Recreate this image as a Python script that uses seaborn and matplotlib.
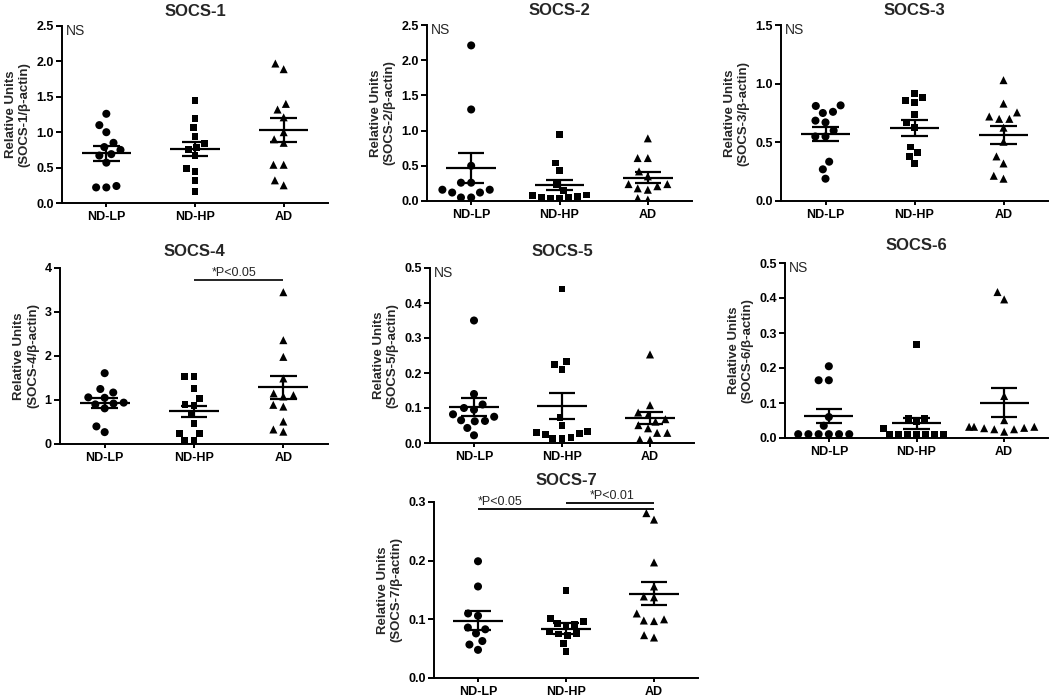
import numpy as np
import pandas as pd
import matplotlib
matplotlib.use("Agg")
import matplotlib.pyplot as plt
import seaborn as sns

groups = ["ND-LP", "ND-HP", "AD"]

# ---- data ----
socs1_ndlp = [1.26, 1.10, 1.00, 0.85, 0.79, 0.75, 0.69, 0.67, 0.57, 0.24, 0.22, 0.22]
socs1_ndhp = [1.45, 1.20, 1.06, 0.94, 0.84, 0.79, 0.75, 0.67, 0.49, 0.45, 0.32, 0.16]
socs1_ad = [1.97, 1.89, 1.40, 1.32, 1.21, 1.00, 0.90, 0.85, 0.54, 0.54, 0.32, 0.25]
socs1_mean = [0.70, 0.76, 1.03]
socs1_sem = [0.11, 0.095, 0.165]

socs2_ndlp = [2.21, 1.30, 0.50, 0.26, 0.26, 0.16, 0.16, 0.12, 0.12, 0.05, 0.05]
socs2_ndhp = [0.95, 0.54, 0.43, 0.23, 0.15, 0.085, 0.08, 0.07, 0.05, 0.05, 0.04, 0.04]
socs2_ad = [0.89, 0.61, 0.61, 0.42, 0.35, 0.24, 0.24, 0.21, 0.18, 0.16, 0.04, 0.02]
socs2_mean = [0.47, 0.23, 0.33]
socs2_sem = [0.21, 0.072, 0.08]

socs3_ndlp = [0.815, 0.81, 0.76, 0.75, 0.685, 0.67, 0.60, 0.55, 0.55, 0.335, 0.27, 0.19]
socs3_ndhp = [0.92, 0.88, 0.855, 0.84, 0.74, 0.67, 0.63, 0.46, 0.41, 0.38, 0.32]
socs3_ad = [1.03, 0.83, 0.755, 0.72, 0.70, 0.70, 0.625, 0.505, 0.38, 0.32, 0.215, 0.19]
socs3_mean = [0.57, 0.62, 0.56]
socs3_sem = [0.06, 0.07, 0.075]

socs4_ndlp = [1.61, 1.25, 1.17, 1.06, 1.05, 0.94, 0.92, 0.90, 0.81, 0.40, 0.27]
socs4_ndhp = [1.53, 1.53, 1.27, 1.04, 0.90, 0.88, 0.66, 0.47, 0.24, 0.24, 0.09, 0.09]
socs4_ad = [3.45, 2.36, 1.98, 1.49, 1.15, 1.11, 1.08, 0.89, 0.85, 0.51, 0.33, 0.28]
socs4_mean = [0.94, 0.74, 1.29]
socs4_sem = [0.115, 0.135, 0.265]

socs5_ndlp = [0.35, 0.14, 0.11, 0.10, 0.095, 0.082, 0.075, 0.065, 0.063, 0.062, 0.043, 0.022]
socs5_ndhp = [0.44, 0.232, 0.225, 0.21, 0.073, 0.049, 0.032, 0.03, 0.026, 0.025, 0.015, 0.013, 0.012]
socs5_ad = [0.253, 0.108, 0.087, 0.08, 0.068, 0.061, 0.051, 0.042, 0.029, 0.029, 0.01, 0.009]
socs5_mean = [0.102, 0.106, 0.071]
socs5_sem = [0.026, 0.036, 0.018]

socs6_ndlp = [0.205, 0.165, 0.165, 0.06, 0.035, 0.011, 0.011, 0.011, 0.011, 0.011, 0.011]
socs6_ndhp = [0.268, 0.056, 0.056, 0.047, 0.028, 0.01, 0.01, 0.01, 0.01, 0.01, 0.01, 0.01]
socs6_ad = [0.417, 0.396, 0.12, 0.051, 0.032, 0.032, 0.032, 0.029, 0.028, 0.025, 0.025, 0.018]
socs6_mean = [0.063, 0.042, 0.101]
socs6_sem = [0.021, 0.015, 0.042]

socs7_ndlp = [0.199, 0.156, 0.11, 0.106, 0.086, 0.083, 0.076, 0.063, 0.057, 0.048]
socs7_ndhp = [0.149, 0.102, 0.096, 0.093, 0.0915, 0.089, 0.079, 0.076, 0.075, 0.072, 0.059, 0.045]
socs7_ad = [0.281, 0.27, 0.197, 0.156, 0.139, 0.1375, 0.11, 0.10, 0.098, 0.097, 0.073, 0.069]
socs7_mean = [0.098, 0.084, 0.144]
socs7_sem = [0.016, 0.009, 0.02]

titles = ["SOCS-1", "SOCS-2", "SOCS-3", "SOCS-4", "SOCS-5", "SOCS-6", "SOCS-7"]
y_ticks = [
    [0.0, 0.5, 1.0, 1.5, 2.0, 2.5],
    [0.0, 0.5, 1.0, 1.5, 2.0, 2.5],
    [0.0, 0.5, 1.0, 1.5],
    [0, 1, 2, 3, 4],
    [0.0, 0.1, 0.2, 0.3, 0.4, 0.5],
    [0.0, 0.1, 0.2, 0.3, 0.4, 0.5],
    [0.0, 0.1, 0.2, 0.3],
]
y_fmt = ["{:.1f}", "{:.1f}", "{:.1f}", "{:.0f}", "{:.1f}", "{:.1f}", "{:.1f}"]
ns_flags = [True, True, True, False, True, True, False]

panels = [
    (socs1_ndlp, socs1_ndhp, socs1_ad, socs1_mean, socs1_sem),
    (socs2_ndlp, socs2_ndhp, socs2_ad, socs2_mean, socs2_sem),
    (socs3_ndlp, socs3_ndhp, socs3_ad, socs3_mean, socs3_sem),
    (socs4_ndlp, socs4_ndhp, socs4_ad, socs4_mean, socs4_sem),
    (socs5_ndlp, socs5_ndhp, socs5_ad, socs5_mean, socs5_sem),
    (socs6_ndlp, socs6_ndhp, socs6_ad, socs6_mean, socs6_sem),
    (socs7_ndlp, socs7_ndhp, socs7_ad, socs7_mean, socs7_sem),
]

# ---- layout (pixel boxes: left, right, top, bottom) ----
W, H = 1050, 697
boxes = [
    (62, 328, 26, 203),
    (427, 692, 25, 201),
    (781, 1048, 25, 201),
    (60, 328, 268, 444),
    (430, 694, 268, 443),
    (785, 1048, 263, 438),
    (434, 698, 502, 678),
]
title_pads = [7, 7, 7, 9, 9, 9, 12]

sns.set_style("ticks")
plt.rcParams["font.family"] = ["Liberation Sans", "DejaVu Sans"]

fig = plt.figure(figsize=(W / 100, H / 100), dpi=100)
markers = ["o", "s", "^"]
msizes = [5.8, 5.0, 5.8]

for k, (box, data) in enumerate(zip(boxes, panels)):
    l, r, t, b = box
    ax = fig.add_axes([l / W, 1 - b / H, (r - l) / W, (b - t) / H])
    vals = data[:3]
    mean, sem = data[3], data[4]
    for gi, (g, v) in enumerate(zip(groups, vals)):
        df = pd.DataFrame({"group": [g] * len(v), "value": v})
        sns.swarmplot(data=df, x="group", y="value", order=groups, ax=ax,
                      marker=markers[gi], color="black", size=msizes[gi],
                      linewidth=1.2, edgecolor="none", zorder=2)
    for gi in range(3):
        ax.hlines(mean[gi], gi - 0.28, gi + 0.28, color="black", lw=1.6, zorder=3)
        ax.hlines([mean[gi] - sem[gi], mean[gi] + sem[gi]], gi - 0.15, gi + 0.15,
                  color="black", lw=1.6, zorder=3)
        ax.vlines(gi, mean[gi] - sem[gi], mean[gi] + sem[gi], color="black",
                  lw=1.6, zorder=3)
    ax.set_xlim(-0.5, 2.5)
    ax.set_ylim(y_ticks[k][0], y_ticks[k][-1])
    ax.set_yticks(y_ticks[k])
    ax.set_yticklabels([y_fmt[k].format(v) for v in y_ticks[k]])
    ax.set_xlabel("")
    ax.set_ylabel("Relative Units\n(SOCS-%d/\u03b2-actin)" % (k + 1),
                  fontsize=9.5, fontweight="bold", labelpad=4)
    ax.set_title(titles[k], fontsize=12, fontweight="bold", pad=title_pads[k])
    sns.despine(ax=ax)
    for s in ["left", "bottom"]:
        ax.spines[s].set_linewidth(1.4)
        ax.spines[s].set_color("black")
    ax.tick_params(axis="y", length=4, width=1.4, labelsize=9, pad=2, colors="black")
    ax.tick_params(axis="x", length=3, width=1.4, labelsize=9, pad=3, colors="black")
    for lab in ax.get_xticklabels() + ax.get_yticklabels():
        lab.set_fontweight("bold")
    if ns_flags[k]:
        ax.text(0.015, 1.01, "NS", transform=ax.transAxes, ha="left", va="top",
                fontsize=10)
    if k == 3:
        ax.hlines(3.72, 1, 2, color="black", lw=1.2)
        ax.text(1.45, 3.76, "*P<0.05", ha="center", va="bottom", fontsize=9)
    if k == 6:
        ax.hlines(0.288, 0, 2, color="black", lw=1.3, clip_on=False)
        ax.hlines(0.298, 1, 2, color="black", lw=1.3, clip_on=False)
        ax.text(0.0, 0.2895, "*P<0.05", ha="left", va="bottom", fontsize=9)
        ax.text(1.53, 0.2995, "*P<0.01", ha="center", va="bottom", fontsize=9)

fig.savefig("out.png", dpi=100)
